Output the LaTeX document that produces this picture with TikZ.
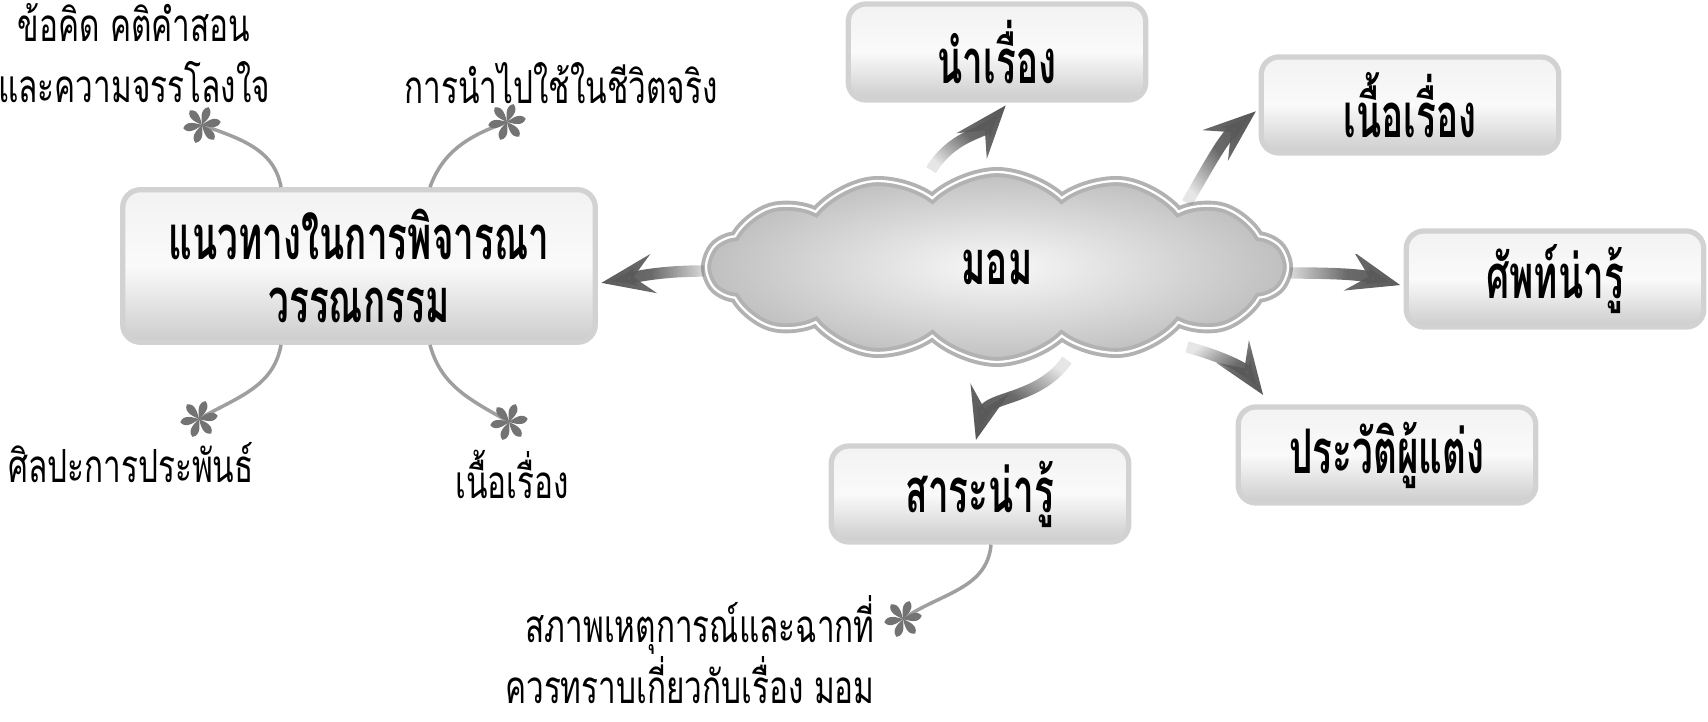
\documentclass[tikz,border=0pt]{standalone}
\usepackage{fontspec}
\newfontfamily\thaifont[Script=Thai,FakeStretch=0.69]{Loma}
\newfontfamily\thaibold[Script=Thai,FakeStretch=0.6]{Loma}
\usepackage{tikz}
\usetikzlibrary{calc,arrows.meta,shapes.symbols,fadings}

\tikzfading[name=tailfade, left color=transparent!85, right color=transparent!0, middle color=transparent!10]

\tikzset{
	topic/.style={rounded corners=10pt,draw=gray!35,line width=3pt,minimum width=5.95cm,minimum height=1.92cm,
		top color=gray!10,bottom color=gray!40,middle color=gray!4,font=\thaibold\bfseries\fontsize{35}{40}\selectfont},
	cloudy/.style={cloud,cloud puffs=14,cloud puff arc=88,cloud ignores aspect,minimum width=11.6cm,minimum height=3.8cm,
		draw=gray!60,double=white,double distance=1.3pt,line width=2.2pt,inner color=gray!5,outer color=gray!50,
		font=\thaibold\bfseries\fontsize{35}{40}\selectfont},
	note/.style={font=\thaifont\fontsize{26}{35}\selectfont,inner sep=0pt},
	twig/.style={gray!75,line width=2pt},
	bigarrow/.style={black!65,line width=6.5pt,-{Stealth[length=1.05cm,width=0.78cm,inset=0.4cm]},
		shorten >=2pt,path fading=tailfade,fading angle=#1},
	flower/.pic={\foreach \ang in {100,160,...,400}
		\fill[black!55,rotate=\ang] (0,0) .. controls (0.04,0.09) and (0.16,0.29) .. (0,0.38) .. controls (-0.16,0.29) and (-0.04,0.09) .. (0,0);}
}

\begin{document}
\begin{tikzpicture}
			\useasboundingbox (0,0) rectangle (34.16,14.44);
			
			\node[topic,minimum width=9.45cm,minimum height=3.05cm,align=center] (guide) at (7.18,9.12) {แนวทางในการพิจารณา\\[-4pt]วรรณกรรม};
			\node[cloudy] (mom) at (19.94,9.1) {มอม};
			\node[topic] (intro) at (19.94,13.4) {นำเรื่อง};
			\node[topic] (body) at (28.2,12.34) {เนื้อเรื่อง};
			\node[topic] (vocab) at (31.1,8.86) {ศัพท์น่ารู้};
			\node[topic] (author) at (27.74,5.34) {ประวัติผู้แต่ง};
			\node[topic] (fact) at (19.6,4.56) {สาระน่ารู้};
			
			\node[note,align=center] (moral) at (2.68,13.38) {ข้อคิด คติคำสอน\\และความจรรโลงใจ};
			\node[note] (use) at (11.22,12.78) {การนำไปใช้ในชีวิตจริง};
			\node[note] (art) at (2.62,5.18) {ศิลปะการประพันธ์};
			\node[note] (story) at (10.24,4.96) {เนื้อเรื่อง};
			\node[note,align=right,anchor=east] (scene) at (17.5,1.45) {สภาพเหตุการณ์และฉากที่\\ควรทราบเกี่ยวกับเรื่อง มอม};
			
			\coordinate (s1) at (4.04,11.94);
			\coordinate (s2) at (10.14,12.0);
			\coordinate (s3) at (3.98,6.06);
			\coordinate (s4) at (10.18,6.0);
			\coordinate (s5) at (18.06,2.06);
			
			\draw[twig] ([xshift=-1.56cm]guide.north) to[out=100,in=-20] (s1);
			\draw[twig] ([xshift=1.42cm]guide.north) to[out=70,in=200] (s2);
			\draw[twig] ([xshift=-1.56cm]guide.south) to[out=-100,in=30] (s3);
			\draw[twig] ([xshift=1.42cm]guide.south) to[out=-75,in=150] (s4);
			\draw[twig] ([xshift=0.22cm]fact.south) to[out=-95,in=35] (s5);
			\foreach \s in {s1,s2,s3,s4,s5}
				\pic at (\s) {flower};
			
			\draw[bigarrow=180] ([yshift=-0.08cm]mom.west) to[out=180,in=10] ([yshift=-0.35cm]guide.east);
			\draw[bigarrow=45] ([xshift=-1.32cm]mom.north) to[out=58,in=-130] ([xshift=0.22cm]intro.south);
			\draw[bigarrow=50] ([shift={(3.8,1.28)}]mom.center) to[out=60,in=-140] ([yshift=-0.08cm]body.west);
			\draw[bigarrow=0] ([yshift=-0.12cm]mom.east) to[out=0,in=165] ([yshift=-0.14cm]vocab.west);
			\draw[bigarrow=-40] ([shift={(3.8,-1.6)}]mom.center) to[out=-15,in=125] ([shift={(0.59,0.13)}]author.north west);
			\draw[bigarrow=230] ([shift={(1.4,-1.86)}]mom.center) to[out=-125,in=75] ([xshift=-0.1cm]fact.north);
\end{tikzpicture}
\end{document}
